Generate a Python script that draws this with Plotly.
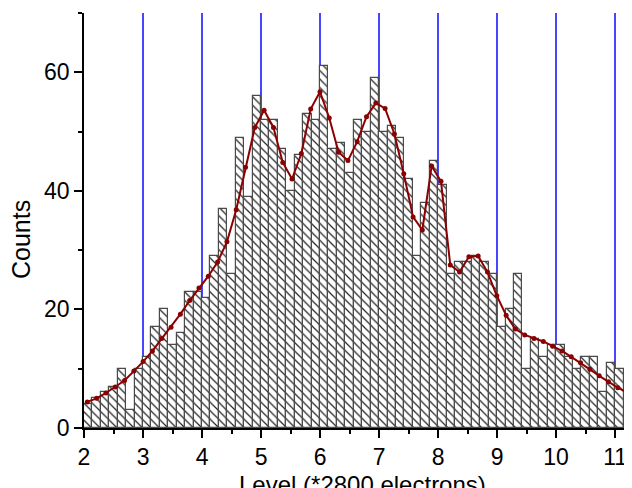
import plotly.graph_objects as go

# Histogram: bins of width 1/7 level starting at level 2
bin_start = 2.0
bin_width = 1.0 / 7.0
counts = [
    4, 5, 6, 7, 10, 3, 10,
    12, 17, 20, 14, 16, 23, 23,
    22, 29, 37, 26, 49, 39, 56,
    52, 52, 47, 40, 46, 53, 52,
    61, 47, 48, 43, 52, 50, 59,
    50, 51, 49, 42, 29, 38, 45,
    41, 26, 28, 28, 29, 28, 26,
    17, 20, 26, 10, 15, 12, 14,
    14, 12, 10, 12, 12, 6, 11,
    10, 2,
]
bin_centers = [bin_start + (i + 0.5) * bin_width for i in range(len(counts))]

# Smoothed curve
curve_x = [
    2.056, 2.214, 2.371, 2.529, 2.687, 2.845, 3.002, 3.160, 3.318, 3.475,
    3.633, 3.791, 3.948, 4.106, 4.264, 4.422, 4.579, 4.737, 4.895, 5.052,
    5.210, 5.368, 5.525, 5.683, 5.841, 5.999, 6.156, 6.314, 6.472, 6.629,
    6.787, 6.945, 7.102, 7.260, 7.418, 7.576, 7.733, 7.891, 8.049, 8.206,
    8.364, 8.522, 8.679, 8.837, 8.995, 9.153, 9.310, 9.468, 9.626, 9.783,
    9.941, 10.099, 10.256, 10.414, 10.572, 10.730, 10.887, 11.045, 11.203, 11.360,
]
curve_y = [
    4.4, 5.0, 5.9, 6.9, 8.0, 9.6, 11.2, 13.0, 15.1, 17.0,
    19.2, 21.5, 23.6, 25.6, 28.0, 31.4, 36.8, 44.0, 50.7, 53.6,
    50.7, 44.8, 42.0, 46.3, 53.8, 56.7, 52.3, 46.5, 45.1, 48.3,
    52.5, 54.8, 53.9, 49.6, 42.9, 35.6, 33.4, 44.2, 41.6, 27.5,
    26.3, 28.9, 29.0, 26.3, 22.3, 19.0, 16.7, 15.7, 15.1, 14.6,
    13.8, 13.0, 12.0, 11.0, 9.9, 8.8, 7.8, 6.8, 6.0, 5.3,
]

x_ticks = [2, 3, 4, 5, 6, 7, 8, 9, 10, 11]
y_ticks = [0, 20, 40, 60]
x_title = "Level (*2800 electrons)"
y_title = "Counts"

FONT = "Arial, Liberation Sans, sans-serif"

fig = go.Figure()
fig.add_trace(go.Bar(
    x=bin_centers, y=counts, width=bin_width,
    marker=dict(
        color="white",
        line=dict(color="#4a4a4a", width=1.2),
        pattern=dict(shape="\\", fgcolor="#222222", bgcolor="white",
                     size=6, solidity=0.2, fillmode="replace"),
    ),
    hoverinfo="skip",
))
fig.add_trace(go.Scatter(
    x=curve_x, y=curve_y, mode="lines+markers",
    line=dict(color="#8B0000", width=2),
    marker=dict(color="#8B0000", size=5),
))

# page body has an 8px margin; size/margins compensate so the plot area
# spans x 84..632 and y 13..428 in the window
fig.update_layout(
    width=624, height=480,
    margin=dict(l=76, r=0, t=5, b=60),
    paper_bgcolor="white", plot_bgcolor="white",
    showlegend=False, bargap=0,
    font=dict(family=FONT, size=23, color="black"),
    xaxis=dict(
        range=[2, 2 + 65 * bin_width],
        tickvals=x_ticks, ticks="outside", ticklen=8, tickwidth=1.5,
        tickcolor="black",
        minor=dict(dtick=0.5, tick0=2, ticks="outside", ticklen=4,
                   tickwidth=1.5, tickcolor="black", showgrid=False),
        showline=True, linecolor="black", linewidth=1.5,
        showgrid=True, gridcolor="rgb(70,70,255)", gridwidth=1.5,
        zeroline=False, automargin=False,
        tickfont=dict(size=23),
    ),
    yaxis=dict(
        range=[0, 70],
        tickvals=y_ticks, ticks="outside", ticklen=8, tickwidth=1.5,
        tickcolor="black",
        minor=dict(dtick=10, ticks="outside", ticklen=4, tickwidth=1.5,
                   tickcolor="black", showgrid=False),
        showline=True, linecolor="black", linewidth=1.5,
        showgrid=False, zeroline=False, automargin=False,
        tickfont=dict(size=23),
    ),
    annotations=[
        dict(
            text=y_title, textangle=-90, xref="paper", yref="paper",
            x=(21 - 84) / 548, y=(428 - 240) / 415,
            xanchor="center", yanchor="middle", showarrow=False,
            font=dict(size=25, family=FONT, color="black"),
        ),
        dict(
            text=x_title, xref="paper", yref="paper",
            x=(362 - 84) / 548, y=(428 - 484) / 415,
            xanchor="center", yanchor="middle", showarrow=False,
            font=dict(size=24, family=FONT, color="black"),
        ),
    ],
)

fig.write_html("out.html")
